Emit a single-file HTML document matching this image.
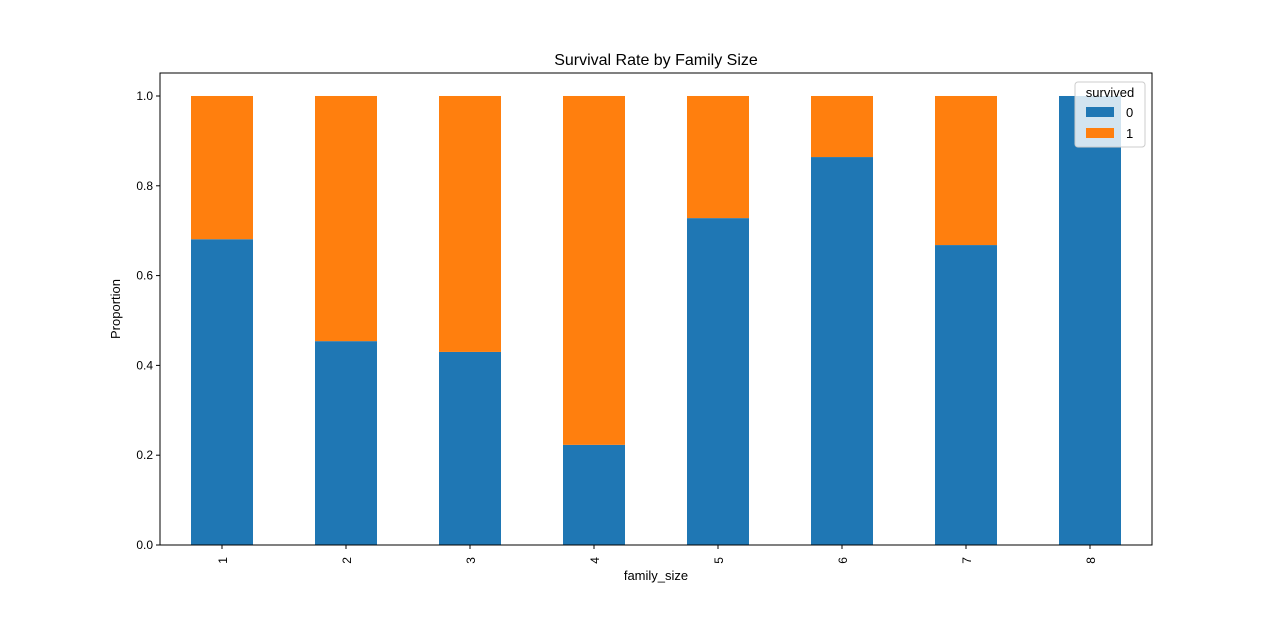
<!DOCTYPE html>
<html><head><meta charset="utf-8"><style>
body{margin:0;background:#fff;font-family:"Liberation Sans","DejaVu Sans",sans-serif;}
</style></head><body>
<svg width="1280" height="612" xmlns="http://www.w3.org/2000/svg" font-family="Liberation Sans, DejaVu Sans, sans-serif">
<text x="656" y="65" text-anchor="middle" font-size="16">Survival Rate by Family Size</text>
<g id="bars"></g>
<rect x="160" y="73" width="992" height="472" fill="none" stroke="#000" stroke-width="1"/>
<g id="yticks"></g><g id="xticks"></g>
<text x="120" y="309" text-anchor="middle" font-size="13" transform="rotate(-90 120 309)">Proportion</text>
<text x="656" y="580" text-anchor="middle" font-size="13">family_size</text>
<g>
<rect x="1075" y="82" width="70" height="65" rx="3" fill="#fff" fill-opacity="0.8" stroke="#ccc"/>
<text x="1110" y="97" text-anchor="middle" font-size="13">survived</text>
<rect x="1086" y="107" width="28" height="10" fill="#1f77b4"/>
<text x="1126" y="117" font-size="13">0</text>
<rect x="1086" y="128" width="28" height="10" fill="#ff7f0e"/>
<text x="1126" y="138" font-size="13">1</text>
</g>
</svg>
<script>
const categories=["1","2","3","4","5","6","7","8"];
const died=[0.681,0.454,0.430,0.223,0.728,0.864,0.668,1.0];
const yTicks=[0,0.2,0.4,0.6,0.8,1.0];
const yTickLabels=["0.0","0.2","0.4","0.6","0.8","1.0"];
const NS="http://www.w3.org/2000/svg";
const L=160,R=1152,T=73,B=545,YMAX=1.0512;
const y=v=>B-(v/YMAX)*(B-T);
const step=(R-L)/categories.length;
const xc=i=>L+step*(i+0.5);
const bw=62;
function mk(tag,attrs,parent){const e=document.createElementNS(NS,tag);for(const k in attrs)e.setAttribute(k,attrs[k]);parent.appendChild(e);return e;}
const bars=document.getElementById('bars');
categories.forEach((c,i)=>{
  const d=died[i],s=1-d;
  const r0=mk('rect',{x:xc(i)-bw/2,y:y(d),width:bw,height:y(0)-y(d),fill:'#1f77b4'},bars);
  
  
  const r1=mk('rect',{x:xc(i)-bw/2,y:y(d+s),width:bw,height:y(d)-y(d+s),fill:'#ff7f0e'},bars);
  
  
  const g=document.getElementById('xticks');
  mk('line',{x1:xc(i),x2:xc(i),y1:B,y2:B+4,stroke:'#000'},g);
  const t=mk('text',{x:xc(i)+5,y:B+12,'font-size':12,'text-anchor':'end',transform:`rotate(-90 ${xc(i)+5} ${B+12})`},g);
  t.textContent=c;
  
  
});
const yg=document.getElementById('yticks');
yTicks.forEach((v,i)=>{
  mk('line',{x1:L-4,x2:L,y1:y(v),y2:y(v),stroke:'#000'},yg);
  const t=mk('text',{x:L-7,y:y(v)+4,'font-size':12,'text-anchor':'end'},yg);
  t.textContent=yTickLabels[i];
  
  
});
</script>
</body></html>
